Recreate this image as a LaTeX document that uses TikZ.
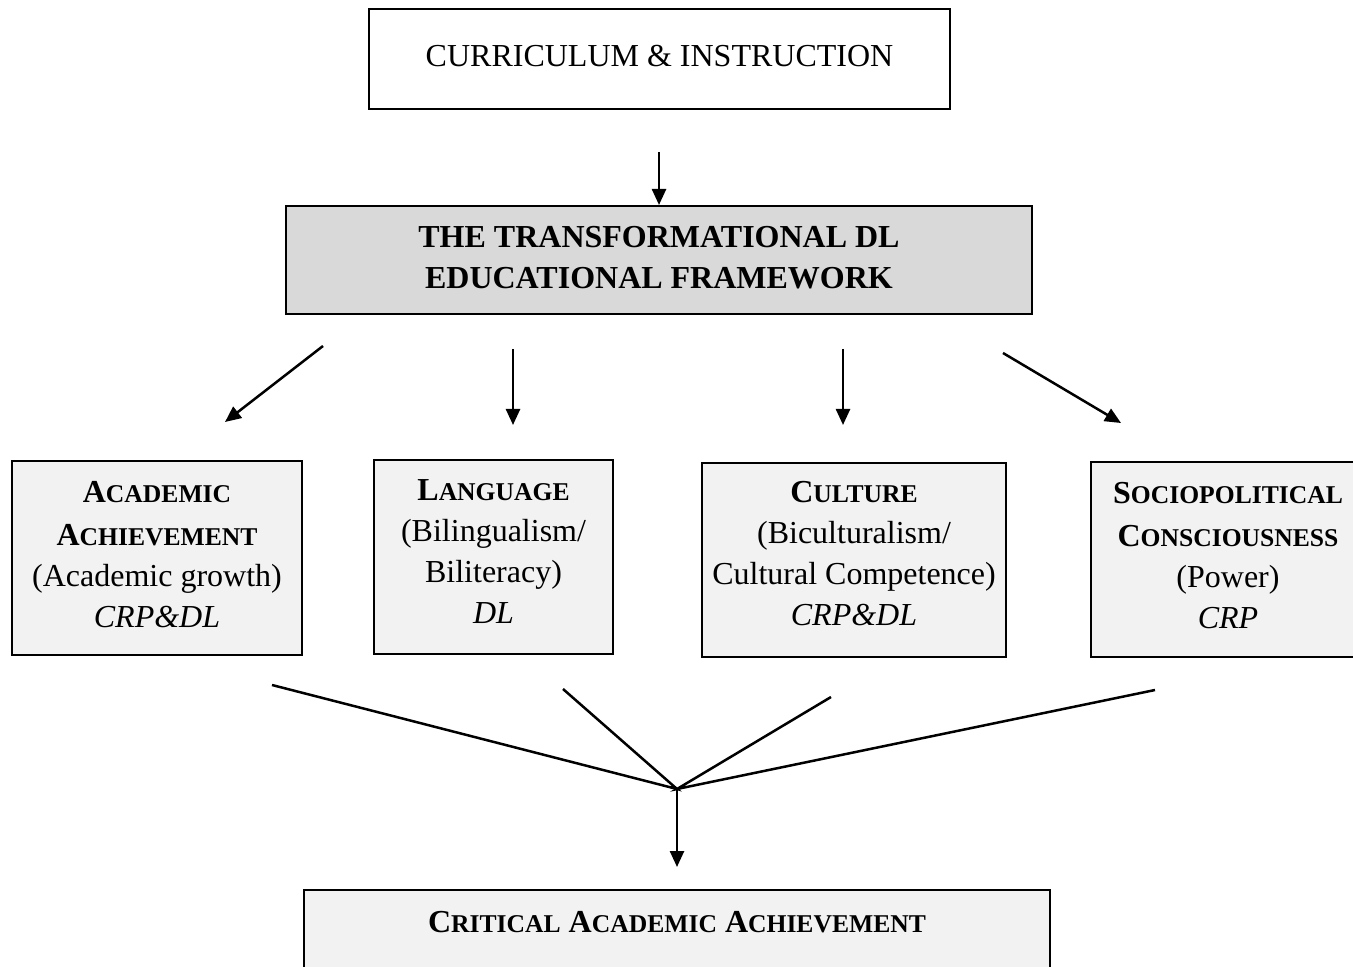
\documentclass[tikz,border=0pt]{standalone}
\usepackage{fontspec}
\setmainfont{Liberation Serif}
\usetikzlibrary{arrows.meta}
\newcommand\fsc[2]{#1{\fontsize{12.8}{20.5}\selectfont #2}}
\tikzset{
  box/.style={draw=black, line width=1pt, rectangle, inner sep=0pt},
  wbox/.style={box, fill=white},
  gbox/.style={box, fill=black!15},
  lbox/.style={box, fill=black!5},
  txt/.style={align=center, inner sep=0pt, font=\fontsize{16}{20.5}\selectfont},
  arr/.style={line width=1.25pt, -{Triangle[length=8pt,width=7pt]}},
  ln/.style={line width=1.25pt},
}
\begin{document}
\begin{tikzpicture}[x=0.5pt,y=-0.5pt]
\useasboundingbox (0,0) rectangle (1353,967);
\clip (0,0) rectangle (1353,967);
% top box
\node[wbox, minimum width=290.5pt, minimum height=50pt] (top) at (659.5,59) {};
\node[txt] (topt) at (659.5,56) {CURRICULUM \& INSTRUCTION};
% main box
\node[gbox, minimum width=373pt, minimum height=54pt] (main) at (659,260) {};
\node[txt, font=\fontsize{16}{20.5}\selectfont\bfseries] (maint) at (659,258) {THE TRANSFORMATIONAL DL\\EDUCATIONAL FRAMEWORK};
% four boxes
\node[lbox, minimum width=145pt, minimum height=97pt] (b1) at (157,558) {};
\node[txt] (b1t) at (157,555) {\textbf{\fsc{A}{CADEMIC}}\\[1pt]\textbf{\fsc{A}{CHIEVEMENT}}\\(Academic growth)\\\textit{CRP\&DL}};
\node[lbox, minimum width=119.5pt, minimum height=97pt] (b2) at (493.5,557) {};
\node[txt] (b2t) at (493.5,552) {\textbf{\fsc{L}{ANGUAGE}}\\(Bilingualism/\\Biliteracy)\\\textit{DL}};
\node[lbox, minimum width=152pt, minimum height=97pt] (b3) at (854,560) {};
\node[txt] (b3t) at (854,554) {\textbf{\fsc{C}{ULTURE}}\\(Biculturalism/\\Cultural Competence)\\\textit{CRP\&DL}};
\node[lbox, minimum width=137pt, minimum height=97.5pt] (b4) at (1228,559.5) {};
\node[txt] (b4t) at (1228,556) {\textbf{\fsc{S}{OCIOPOLITICAL}}\\[1pt]\textbf{\fsc{C}{ONSCIOUSNESS}}\\(Power)\\\textit{CRP}};
% bottom box
\node[lbox, minimum width=373pt, minimum height=75pt] (bot) at (677,965) {};
\node[txt] (bott) at (677,922) {\textbf{\fsc{C}{RITICAL} \fsc{A}{CADEMIC} \fsc{A}{CHIEVEMENT}}};
% arrow coordinates
\coordinate (a0s) at (659,152);
\coordinate (a1s) at (323,346); \coordinate (a1e) at (225,422);
\coordinate (a2s) at (513,349); \coordinate (a2e) at (513,425);
\coordinate (a3s) at (843,349); \coordinate (a3e) at (843,425);
\coordinate (a4s) at (1003,353); \coordinate (a4e) at (1121,423);
\coordinate (c1) at (272,685);
\coordinate (c2) at (563,689);
\coordinate (c3) at (831,697);
\coordinate (c4) at (1155,690);
\coordinate (m) at (677,789);
\coordinate (me) at (677,867);
\draw[arr] (a0s) -- (main.north -| a0s);
\draw[arr] (a1s) -- (a1e);
\draw[arr] (a2s) -- (a2e);
\draw[arr] (a3s) -- (a3e);
\draw[arr] (a4s) -- (a4e);
\draw[ln, line join=miter] (c1) -- (m) -- (c2);
\draw[ln, line join=miter] (c3) -- (m) -- (c4);
\draw[arr] (m) -- (me);
\end{tikzpicture}
\end{document}
